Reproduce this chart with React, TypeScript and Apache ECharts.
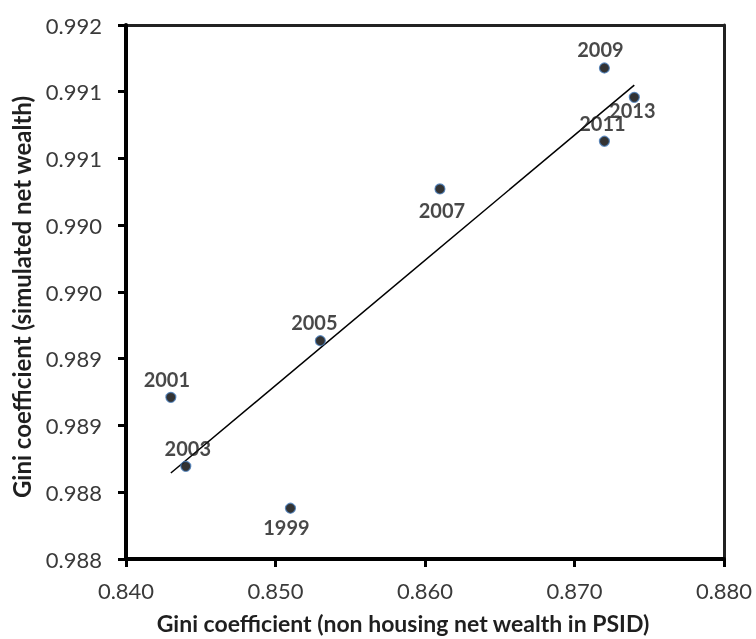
import React, { useEffect, useRef } from "react";
import * as echarts from "echarts";

const years = ["1999", "2001", "2003", "2005", "2007", "2009", "2011", "2013"];
const xValues = [0.851, 0.843, 0.844, 0.853, 0.861, 0.872, 0.872, 0.874];
const yValues = [0.98838, 0.989211, 0.988694, 0.989635, 0.990772, 0.991678, 0.991129, 0.991458];
const labelPos = ["bottom", "top", "top", "top", "bottom", "top", "top", "bottom"];
const labelOffset = [[-4, 0], [-4, 0], [2, 0], [-6, 0], [2, 2], [-4, 0], [-2, 0], [-2, -6]];
const trendX = [0.843, 0.874];
const trendY = [0.988644, 0.99155];
const xTickLabels = ["0.840", "0.850", "0.860", "0.870", "0.880"];
const yTickLabels = ["0.988", "0.988", "0.989", "0.989", "0.990", "0.990", "0.991", "0.991", "0.992"];

export default function App() {
  const ref = useRef<HTMLDivElement>(null);
  useEffect(() => {
    const chart = echarts.init(ref.current!, null, { renderer: "svg" });
    const font = "Lato, 'Open Sans', sans-serif";
    const frame = {
      axisLine: { show: true, onZero: false, lineStyle: { color: "#222", width: 3 } },
      axisTick: { show: false },
      axisLabel: { show: false },
      splitLine: { show: false },
    };
    chart.setOption({
      animation: false,
      grid: { left: 126, right: 32, top: 25, bottom: 80 },
      xAxis: [
        {
          type: "value", min: 0.84, max: 0.88, interval: 0.01,
          name: "Gini coefficient (non housing net wealth in PSID)",
          nameLocation: "middle", nameGap: 52,
          nameTextStyle: { fontFamily: font, fontWeight: "bold", fontSize: 23, color: "#1f1f1f", padding: [0, 44, 0, 0] },
          axisLine: { show: true, onZero: false, lineStyle: { color: "#000", width: 4 } },
          axisTick: { show: true, inside: false, length: 8, lineStyle: { color: "#000", width: 3 } },
          axisLabel: {
            margin: 20, fontFamily: font, fontSize: 22, color: "#3a3a3a",
            formatter: (_v: number, i: number) => xTickLabels[i] ?? "",
          },
          splitLine: { show: false },
          z: 5,
        },
        { type: "value", position: "top", min: 0.84, max: 0.88, ...frame },
      ],
      yAxis: [
        {
          type: "value", min: 0.988, max: 0.992, interval: 0.0005,
          name: "Gini coefficient (simulated net wealth)",
          nameLocation: "middle", nameGap: 93, nameRotate: 90,
          nameTextStyle: { fontFamily: font, fontWeight: "bold", fontSize: 24, color: "#1f1f1f", padding: [0, 10, 0, 0] },
          axisLine: { show: true, onZero: false, lineStyle: { color: "#000", width: 4 } },
          axisTick: { show: true, inside: false, length: 8, lineStyle: { color: "#000", width: 3 } },
          axisLabel: {
            margin: 24, fontFamily: font, fontSize: 22, color: "#3a3a3a",
            formatter: (_v: number, i: number) => yTickLabels[i] ?? "",
          },
          splitLine: { show: false },
          z: 5,
        },
        { type: "value", position: "right", min: 0.988, max: 0.992, ...frame },
      ],
      series: [
        {
          type: "line",
          data: trendX.map((x, i) => [x, trendY[i]]),
          symbol: "none",
          lineStyle: { color: "#000", width: 1.5 },
          z: 2,
        },
        {
          type: "scatter",
          symbol: "circle",
          symbolSize: 10,
          itemStyle: { color: "#000", borderColor: "#4a7ebb", borderWidth: 1.2 },
          data: xValues.map((x, i) => ({
            value: [x, yValues[i]],
            label: {
              show: true,
              position: labelPos[i],
              offset: labelOffset[i],
              distance: 3,
              formatter: years[i],
              fontFamily: font,
              fontWeight: "bold",
              fontSize: 20,
              color: "#1a1a1a",
            },
          })),
          z: 3,
        },
      ],
    });
    return () => chart.dispose();
  }, []);
  return <div ref={ref} style={{ position: "fixed", left: 0, top: 0, width: 756, height: 639 }} />;
}
